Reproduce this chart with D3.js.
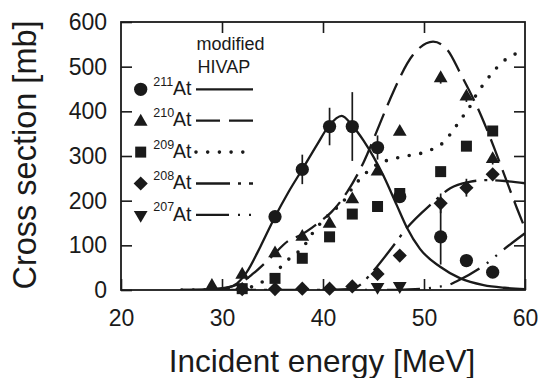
<!DOCTYPE html>
<html>
<head>
<meta charset="utf-8">
<script src="https://cdn.jsdelivr.net/npm/d3@7"></script>
<style>
  html, body { margin: 0; padding: 0; background: #fff; }
  svg { display: block; }
  text { font-family: "Liberation Sans", Arial, Helvetica, sans-serif; fill: #1a1a1a; }
</style>
</head>
<body>
<svg id="chart" width="538" height="378"></svg>
<script>
// ---------------- data ----------------
const energy = [29.0, 32.0, 35.25, 37.95, 40.65, 42.9, 45.4, 47.6, 51.65, 54.2, 56.8];
const at211 = [null, null, 164, 270, 366, 366, 319, 209, 119, 66, 40];
const at211Err = [0, 0, 0, 33, 42, 77, 27, 0, 62, 0, 0];
const at210 = [9, 34, 82, 119, 148, 203, 265, 354, 474, 433, 293];
const at210Err = [0, 0, 0, 0, 0, 0, 0, 0, 12, 12, 12];
const at209 = [null, 3, 26, 71, 119, 170, 187, 216, 265, 322, 356];
const at209Err = [0, 0, 0, 0, 0, 0, 0, 0, 0, 0, 0];
const at208 = [null, 2, 2, 3, 3, 8, 36, 77, 194, 229, 259];
const at208Err = [0, 0, 0, 0, 0, 0, 0, 0, 22, 20, 0];
const at207 = [null, null, null, null, null, null, 7, 9, null, null, null];

// modified HIVAP calculations (energy, cross section)
const hivap211E = [26, 29, 30.5, 31.5, 32.45, 33.8, 35.25, 36.6, 38, 39.4, 40.6, 41.85, 42.9, 44, 45, 46, 47.3, 48.3, 49.6, 51.6, 53.6, 55.9, 58, 60];
const hivap211S = [0, 1, 5, 15, 40, 97, 164, 220, 272, 325, 368, 390, 368, 335, 298, 255, 190, 140, 92, 52, 26, 11, 5, 2];
const hivap210E = [26, 29, 31, 32, 33.1, 34.75, 36.7, 37.7, 39.7, 40.85, 42.35, 44, 45.3, 46.6, 48.9, 50.9, 52.3, 53.6, 55.7, 56.9, 58, 59.2, 60];
const hivap210S = [0, 2, 8, 18, 37, 71, 112, 122, 153, 175, 218, 285, 354, 425, 526, 556, 538, 485, 388, 321, 255, 183, 138];
const hivap209E = [26, 30, 32, 33.4, 35.7, 36.8, 38, 38.9, 39.9, 40.9, 42, 42.9, 43.9, 45, 46.2, 47.4, 48.5, 49.7, 50.8, 52, 52.9, 53.7, 54.5, 55.1, 55.9, 56.8, 57.8, 59, 60];
const hivap209S = [0, 1, 3, 11, 49, 73, 95, 125, 153, 175, 198, 228, 254, 276, 289, 296, 301, 306, 315, 332, 358, 384, 409, 434, 461, 487, 511, 528, 535];
const hivap208E = [30, 40, 42.5, 43.6, 44.65, 46.8, 48.2, 50.8, 52.6, 54.5, 56.2, 58, 60];
const hivap208S = [0, 0, 2, 10, 34, 94, 136, 194, 228, 242, 246, 244, 239];
const hivap207E = [40, 46, 48, 50, 51.4, 52.4, 53.2, 56, 57.9, 60];
const hivap207S = [0, 0, 1, 3, 7, 11, 19, 56, 91, 127];

const xTicks = [20, 30, 40, 50, 60];
const yTicks = [0, 100, 200, 300, 400, 500, 600];
const legendMass = ["211", "210", "209", "208", "207"];

// ---------------- layout ----------------
const svg = d3.select("#chart");
const L = 121, R = 525, T = 22, B = 290;
const x = d3.scaleLinear().domain([20, 60]).range([L, R]);
const y = d3.scaleLinear().domain([0, 600]).range([B, T]);
const ink = "#1a1a1a";

// axes
const tickFont = "23px";
const gl = svg.append("g").attr("transform", `translate(${L},0)`)
  .call(d3.axisLeft(y).tickValues(yTicks).tickSize(-11).tickPadding(14).tickFormat(d3.format("d")));
const gb = svg.append("g").attr("transform", `translate(0,${B})`)
  .call(d3.axisBottom(x).tickValues(xTicks).tickSize(-11).tickPadding(20).tickFormat(d3.format("d")));
const gt = svg.append("g").attr("transform", `translate(0,${T})`)
  .call(d3.axisTop(x).tickValues([30, 40, 50]).tickSize(-11).tickFormat(""));
const gr = svg.append("g").attr("transform", `translate(${R},0)`)
  .call(d3.axisRight(y).tickValues([100, 200, 300, 400, 500]).tickSize(-11).tickFormat(""));
[gl, gb, gt, gr].forEach(g => {
  g.select(".domain").remove();
  g.selectAll(".tick line").attr("stroke", ink).attr("stroke-width", 1.6);
  g.selectAll(".tick text").attr("font-size", tickFont).attr("fill", ink)
    .style("font-family", '"Liberation Sans", Arial, sans-serif');
});

// frame
svg.append("rect").attr("x", L).attr("y", T).attr("width", R - L).attr("height", B - T)
  .attr("fill", "none").attr("stroke", ink).attr("stroke-width", 1.8);

// axis titles
svg.append("text").attr("x", 322).attr("y", 372).attr("text-anchor", "middle")
  .attr("font-size", "31.5px").text("Incident energy [MeV]");
svg.append("text").attr("transform", "translate(36,155) rotate(-90)").attr("text-anchor", "middle")
  .attr("font-size", "32.5px").text("Cross section [mb]");

// clip
svg.append("clipPath").attr("id", "clip").append("rect")
  .attr("x", L).attr("y", T).attr("width", R - L).attr("height", B - T);

// curves
const line = d3.line().x(d => x(d[0])).y(d => y(d[1])).curve(d3.curveMonotoneX);
const curves = [
  { E: hivap211E, S: hivap211S, dash: null, cap: "butt" },
  { E: hivap210E, S: hivap210S, dash: "24,9", cap: "butt" },
  { E: hivap209E, S: hivap209S, dash: "0,11.7", cap: "round", w: 3.6 },
  { E: hivap208E, S: hivap208S, dash: "34,8,3,8", cap: "butt" },
  { E: hivap207E, S: hivap207S, dash: "33,9,2,9,2,9", cap: "butt" }
];
const gc = svg.append("g").attr("clip-path", "url(#clip)");
curves.forEach(c => {
  gc.append("path").datum(c.E.map((e, i) => [e, c.S[i]]))
    .attr("d", line).attr("fill", "none").attr("stroke", ink)
    .attr("stroke-width", c.w || 2.3).attr("stroke-linecap", c.cap)
    .attr("stroke-dasharray", c.dash);
});

// symbols
const sym = {
  "211": d3.symbol().type(d3.symbolCircle).size(138),
  "210": d3.symbol().type(d3.symbolTriangle).size(82),
  "209": d3.symbol().type(d3.symbolSquare).size(121),
  "208": d3.symbol().type(d3.symbolSquare).size(100),
  "207": d3.symbol().type(d3.symbolTriangle).size(82)
};
const rot = { "211": 0, "210": 0, "209": 0, "208": 45, "207": 180 };
const series = [
  { m: "211", v: at211, e: at211Err },
  { m: "210", v: at210, e: at210Err },
  { m: "209", v: at209, e: at209Err },
  { m: "208", v: at208, e: at208Err },
  { m: "207", v: at207, e: null }
];
const gm = svg.append("g");
series.forEach(s => {
  const pts = energy.map((en, i) => ({ en, v: s.v[i], er: s.e ? s.e[i] : 0 })).filter(p => p.v !== null);
  gm.selectAll(null).data(pts.filter(p => p.er > 0)).join("line")
    .attr("x1", p => x(p.en)).attr("x2", p => x(p.en))
    .attr("y1", p => y(p.v - p.er)).attr("y2", p => y(p.v + p.er))
    .attr("stroke", ink).attr("stroke-width", 1.7);
  gm.selectAll(null).data(pts).join("path")
    .attr("d", sym[s.m]()).attr("fill", ink)
    .attr("transform", p => `translate(${x(p.en)},${y(p.v)}) rotate(${rot[s.m]})`);
});

// legend
const lg = svg.append("g");
lg.append("text").attr("x", 196.5).attr("y", 50).attr("font-size", "18px").text("modified");
lg.append("text").attr("x", 197.5).attr("y", 72.7).attr("font-size", "18px").text("HIVAP");
legendMass.forEach((m, i) => {
  const ry = 89.3 + i * 31.4;
  const c = curves[i];
  lg.append("path").attr("d", sym[m]()).attr("fill", ink)
    .attr("transform", `translate(140.7,${ry + (m === "210" ? 1 : 0)}) rotate(${rot[m]})`);
  lg.append("text").attr("x", 153.3).attr("y", ry - 3.6).attr("font-size", "12.5px").text(m);
  lg.append("text").attr("x", 173).attr("y", ry + 5.7).attr("font-size", "19.5px").text("At");
  lg.append("line").attr("x1", 196).attr("x2", 253).attr("y1", ry).attr("y2", ry)
    .attr("stroke", ink).attr("stroke-width", c.w || 2.3).attr("stroke-linecap", c.cap)
    .attr("stroke-dasharray", c.dash);
});
</script>
</body>
</html>
